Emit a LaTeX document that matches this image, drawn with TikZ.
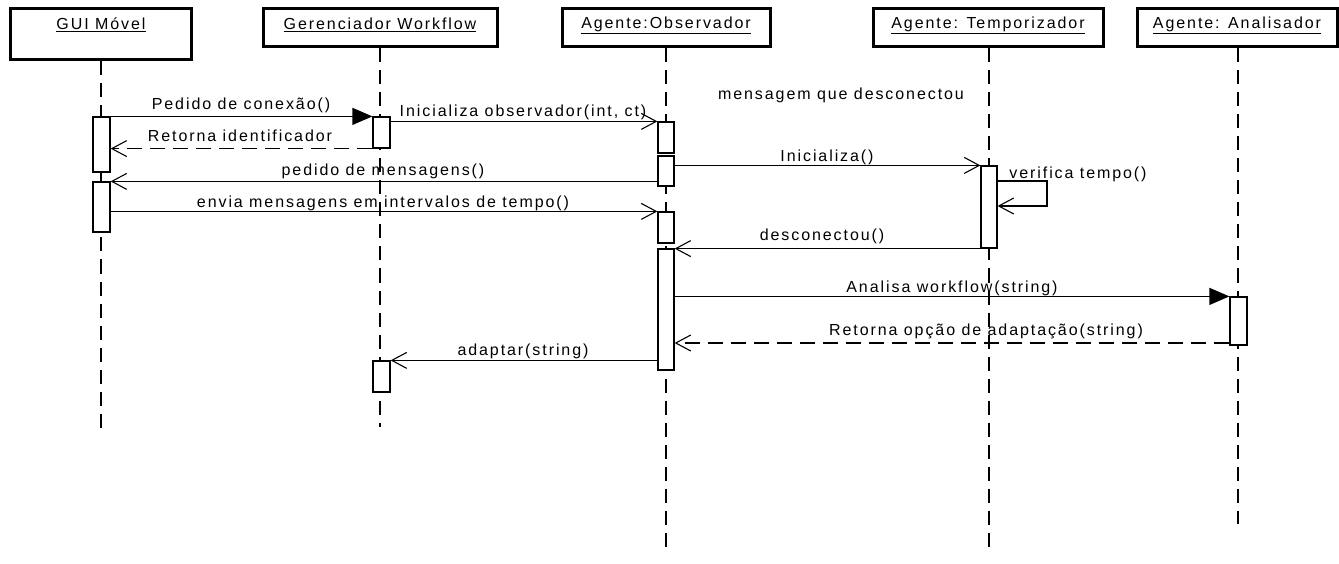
\documentclass[tikz,border=0pt]{standalone}
\usepackage{fontspec}
\setmainfont{Liberation Sans}[LetterSpace=12]
\usetikzlibrary{arrows.meta}
\begin{document}
\begin{tikzpicture}[x=1pt,y=-1pt,
  every node/.style={font=\fontsize{16}{19}\selectfont, inner sep=0pt},
  head/.style={draw, line width=3pt, inner sep=0pt},
  lifeline/.style={line width=1.3pt, dash pattern=on 14pt off 8pt},
  act/.style={draw, fill=white, line width=1.2pt, minimum width=17pt, inner sep=0pt},
  msg/.style={line width=1.2pt},
  ret/.style={line width=1.2pt, dash pattern=on 15pt off 8pt},
  openarr/.style={-{Straight Barb[length=15pt,width=16pt,line width=1.1pt]}},
  fillarr/.style={-{Triangle[length=20pt,width=17pt]}},
  lbl/.style={anchor=center}]
\fill[white] (0,0) rectangle (1339,564);
\useasboundingbox (0,0) rectangle (1339,564);

% headers
\node[head, minimum width=181pt, minimum height=51pt] (guiH) at (100.5,34.5) {};
\node[head, minimum width=234pt, minimum height=38pt] (gerH) at (380,28) {};
\node[head, minimum width=208pt, minimum height=38pt] (obsH) at (666,28) {};
\node[head, minimum width=230pt, minimum height=38pt] (tmpH) at (988,28) {};
\node[head, minimum width=200pt, minimum height=38pt] (anaH) at (1237,28) {};
\node (guiT) at (101,25) {\underline{GUI Móvel}};
\node (gerT) at (380,25) {\underline{Gerenciador Workflow}};
\node (obsT) at (666,25) {\underline{Agente:Observador}};
\node (tmpT) at (988,25) {\underline{Agente: Temporizador}};
\node (anaT) at (1237,25) {\underline{Agente: Analisador}};

% lifeline ends
\coordinate (guiE) at (101,430);
\coordinate (gerE) at (380,427);
\coordinate (obsE) at (666,548);
\coordinate (tmpE) at (989,548);
\coordinate (anaE) at (1238,524);
\draw[lifeline] (guiH.south -| guiE) -- (guiE);
\draw[lifeline] (gerH.south -| gerE) -- (gerE);
\draw[lifeline] (obsH.south -| obsE) -- (obsE);
\draw[lifeline] (tmpH.south -| tmpE) -- (tmpE);
\draw[lifeline] (anaH.south -| anaE) -- (anaE);

% activations
\node[act, minimum height=55pt] (gui1) at (101.5,144.5) {};
\node[act, minimum height=50pt] (gui2) at (101.5,207) {};
\node[act, minimum height=31pt] (ger1) at (381.5,132.5) {};
\node[act, minimum height=31pt] (ger2) at (381.5,376.5) {};
\node[act, minimum height=31pt, minimum width=16pt] (obs1) at (666,137.5) {};
\node[act, minimum height=30pt, minimum width=16pt] (obs2) at (666,171) {};
\node[act, minimum height=31pt, minimum width=16pt] (obs3) at (666,227.5) {};
\node[act, minimum height=121pt, minimum width=16pt] (obs4) at (666,309.5) {};
\node[act, minimum height=82pt, minimum width=16pt] (tmp1) at (989,207) {};
\node[act, minimum height=48pt] (ana1) at (1238.5,321) {};

% messages
\draw[msg, fillarr] (gui1.north east) -- (ger1.north west);
\node[lbl] (m1) at (241,105) {Pedido de conexão()};
\draw[ret, openarr] (ger1.south west) -- (gui1.east |- ger1.south west);
\node[lbl] (m2) at (240,136) {Retorna identificador};
\draw[msg, openarr] (ger1.east |- obs1.north west) -- (obs1.north west);
\node[lbl] (m3) at (523,112) {Inicializa observador(int, ct)};
\draw[msg, openarr] (obs2.west |- gui2.north east) -- (gui2.north east);
\node[lbl] (m4) at (383,171) {pedido de mensagens()};
\draw[msg, openarr] (obs2.east |- tmp1.north west) -- (tmp1.north west);
\node[lbl] (m5) at (827,157) {Inicializa()};
\coordinate (selfA) at (1047,181);
\coordinate (selfB) at (1047,206);
\draw[msg, openarr] (tmp1.east |- selfA) -- (selfA) -- (selfB) -- (tmp1.east |- selfB);
\node[lbl] (m6) at (1078,174) {verifica tempo()};
\draw[msg, openarr] (gui2.east |- obs3.north west) -- (obs3.north west);
\node[lbl] (m7) at (383,203) {envia mensagens em intervalos de tempo()};
\draw[msg, openarr] (tmp1.south west) -- (obs4.east |- tmp1.south west);
\node[lbl] (m8) at (822,236) {desconectou()};
\draw[msg, fillarr] (obs4.east |- ana1.north west) -- (ana1.north west);
\node[lbl] (m9) at (952,288) {Analisa workflow(string)};
\draw[ret, openarr] (ana1.west |- 0,343) -- (obs4.east |- 0,343);
\node[lbl] (m10) at (986,331) {Retorna opção de adaptação(string)};
\draw[msg, openarr] (obs4.west |- ger2.north east) -- (ger2.north east);
\node[lbl] (m11) at (523,351) {adaptar(string)};

\node[lbl] (note) at (841,95) {mensagem que desconectou};
\end{tikzpicture}
\end{document}
